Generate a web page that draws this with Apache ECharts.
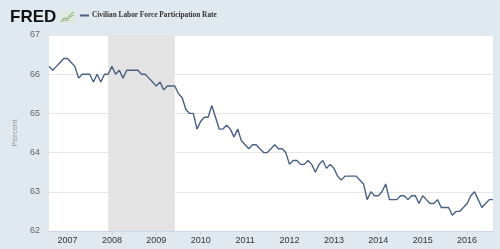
<!DOCTYPE html>
<html><head><meta charset="utf-8">
<script src="https://cdn.jsdelivr.net/npm/echarts@6/dist/echarts.min.js"></script>
<style>html,body{margin:0;padding:0;background:#e1e9f0}#c{width:500px;height:249px}</style>
</head><body><div id="c"></div>
<script>
// Monthly values, Aug 2006 – Aug 2016
const startYear = 2006, startMonth = 8;
const v2006 = [66.2, 66.1, 66.2, 66.3, 66.4];
const v2007 = [66.4, 66.3, 66.2, 65.9, 66.0, 66.0, 66.0, 65.8, 66.0, 65.8, 66.0, 66.0];
const v2008 = [66.2, 66.0, 66.1, 65.9, 66.1, 66.1, 66.1, 66.1, 66.0, 66.0, 65.9, 65.8];
const v2009 = [65.7, 65.8, 65.6, 65.7, 65.7, 65.7, 65.5, 65.4, 65.1, 65.0, 65.0, 64.6];
const v2010 = [64.8, 64.9, 64.9, 65.2, 64.9, 64.6, 64.6, 64.7, 64.6, 64.4, 64.6, 64.3];
const v2011 = [64.2, 64.1, 64.2, 64.2, 64.1, 64.0, 64.0, 64.1, 64.2, 64.1, 64.1, 64.0];
const v2012 = [63.7, 63.8, 63.8, 63.7, 63.7, 63.8, 63.7, 63.5, 63.7, 63.8, 63.6, 63.7];
const v2013 = [63.6, 63.4, 63.3, 63.4, 63.4, 63.4, 63.4, 63.3, 63.2, 62.8, 63.0, 62.9];
const v2014 = [62.9, 63.0, 63.2, 62.8, 62.8, 62.8, 62.9, 62.9, 62.8, 62.9, 62.9, 62.7];
const v2015 = [62.9, 62.8, 62.7, 62.7, 62.8, 62.6, 62.6, 62.6, 62.4, 62.5, 62.5, 62.6];
const v2016 = [62.7, 62.9, 63.0, 62.8, 62.6, 62.7, 62.8, 62.8];
const recession = ['2007-12', '2009-06'];
const seriesName = 'Civilian Labor Force Participation Rate';
const yTicks = [62, 63, 64, 65, 66, 67];

const years = [v2006, v2007, v2008, v2009, v2010, v2011, v2012, v2013, v2014, v2015, v2016];
const categories = [], values = [];
years.forEach((arr, yi) => {
  const y = startYear + yi;
  const m0 = yi === 0 ? startMonth : 1;
  arr.forEach((v, i) => {
    const m = m0 + i;
    categories.push(y + '-' + (m < 10 ? '0' + m : m));
    values.push(v);
  });
});
const isJan = (i) => categories[i].endsWith('-01');

const chart = echarts.init(document.getElementById('c'), null, {renderer: 'canvas'});
chart.setOption({
  backgroundColor: '#e1e9f0',
  animation: false,
  grid: {left: 49, right: 7, top: 35, bottom: 18, show: true, backgroundColor: '#ffffff', borderWidth: 0},
  legend: {
    show: true, left: 80, top: 12, padding: 0, itemWidth: 9, itemHeight: 2, itemGap: 3,
    icon: 'rect',
    textStyle: {fontFamily: 'Liberation Serif', fontWeight: 'bold', fontSize: 7.3, color: '#333', padding: [0, 0, 0, -2]},
    data: [seriesName]
  },
  graphic: [
    {type: 'text', left: 10, top: 9, style: {text: 'FRED', font: '900 17px "Liberation Sans"', fill: '#111'}},
    {type: 'rect', shape: {x: 60, y: 11, width: 15, height: 12}, style: {fill: '#dfe8dc'}},
    {type: 'polyline', shape: {points: [[61, 22], [64, 18], [67, 19], [70, 15], [74, 12]]}, style: {stroke: '#7fae6b', lineWidth: 1, fill: null}},
    {type: 'polyline', shape: {points: [[61, 22], [64, 20], [67, 21], [70, 17], [74, 15]]}, style: {stroke: '#9ab79a', lineWidth: 1, fill: null}}
  ],
  xAxis: {
    type: 'category', data: categories, boundaryGap: false,
    axisLine: {show: true, lineStyle: {color: '#ccd6eb'}},
    axisTick: {show: true, length: 4, interval: (i) => isJan(i), lineStyle: {color: '#ccd6eb'}},
    axisLabel: {interval: (i) => isJan(i), formatter: (v) => v.slice(0, 4), color: '#333', fontSize: 9, margin: 5, fontFamily: 'Liberation Sans'},
    splitLine: {show: false}
  },
  yAxis: {
    type: 'value', min: yTicks[0], max: yTicks[yTicks.length - 1], interval: 1,
    name: 'Percent', nameLocation: 'middle', nameGap: 27, nameRotate: 90,
    nameTextStyle: {color: '#999', fontSize: 8, fontFamily: 'Liberation Sans'},
    axisLine: {show: false}, axisTick: {show: false},
    axisLabel: {color: '#666', fontSize: 9, margin: 9, fontFamily: 'Liberation Sans'},
    splitLine: {lineStyle: {color: '#e6e6e6', width: 1}}
  },
  series: [{
    name: seriesName, type: 'line', data: values, symbol: 'none',
    lineStyle: {color: '#4a6085', width: 1.4},
    itemStyle: {color: '#4a6085'},
    markArea: {silent: true, itemStyle: {color: '#e3e3e3'}, data: [[{xAxis: recession[0]}, {xAxis: recession[1]}]]},
    z: 3
  }]
});
</script></body></html>
